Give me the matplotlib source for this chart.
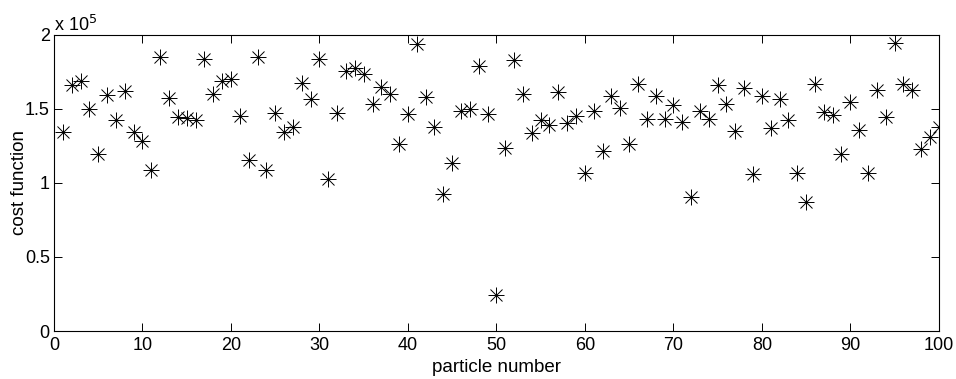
import matplotlib
matplotlib.use("Agg")
import matplotlib.pyplot as plt
import numpy as np

particles = list(range(1, 101))
cost = [
    134100, 166300, 169000, 149800, 119200, 159300, 142400, 162000, 134100, 128200,
    108700, 185200, 157500, 144700, 143500, 142400, 183800, 160200, 168700, 170300,
    145400, 115200, 185200, 108700, 147400, 134100, 137500, 167200, 156800, 183800,
    102600, 147400, 175500, 177700, 173200, 153000, 164500, 160000, 126200, 146700,
    193500, 158200, 137700, 92200, 113600, 148700, 149800, 178900, 146500, 24500,
    123300, 183100, 159700, 133400, 142200, 139300, 161500, 140400, 144900, 106600,
    148300, 121500, 158400, 150500, 126200, 166900, 142900, 158600, 142900, 152300,
    141100, 90400, 148700, 142900, 166300, 153400, 135200, 164000, 105700, 158800,
    137200, 156800, 142200, 106400, 86800, 166500, 147800, 145800, 119700, 154300,
    135900, 106400, 162700, 144700, 194200, 166500, 162700, 122600, 130900, 137500,
]

xticks = [0, 10, 20, 30, 40, 50, 60, 70, 80, 90, 100]
yticks = [0, 0.5, 1, 1.5, 2]
ytick_labels = ["0", "0.5", "1", "1.5", "2"]

plt.rcParams['font.family'] = ['Liberation Sans', 'DejaVu Sans']

fig = plt.figure(figsize=(9.56, 3.79), dpi=100)
ax = fig.add_axes([0.0565, 0.1266, 0.9255, 0.7819])

y = np.array(cost) / 1e5
ax.plot(particles, y, linestyle='none', marker='+', markersize=12,
        markeredgewidth=0.7, color='black')
ax.plot(particles, y, linestyle='none', marker='x', markersize=8.5,
        markeredgewidth=0.7, color='black')

ax.set_xlim(0, 100)
ax.set_ylim(0, 2)
ax.set_xticks(xticks)
ax.set_xticklabels([str(t) for t in xticks])
ax.set_yticks(yticks)
ax.set_yticklabels(ytick_labels)
ax.tick_params(direction='in', length=6, width=0.7, top=True, right=True,
               labelsize=13)
ax.tick_params(axis='x', pad=4)
ax.tick_params(axis='y', pad=3)
for s in ax.spines.values():
    s.set_linewidth(0.8)

ax.set_xlabel("particle number", fontsize=13.5, labelpad=4)
ax.set_ylabel("cost function", fontsize=13.5, labelpad=-2)
ax.text(0.0, 1.0, r"x 10$^{5}$", transform=ax.transAxes, fontsize=13,
        ha='left', va='bottom')

fig.savefig("out.png", dpi=100)
